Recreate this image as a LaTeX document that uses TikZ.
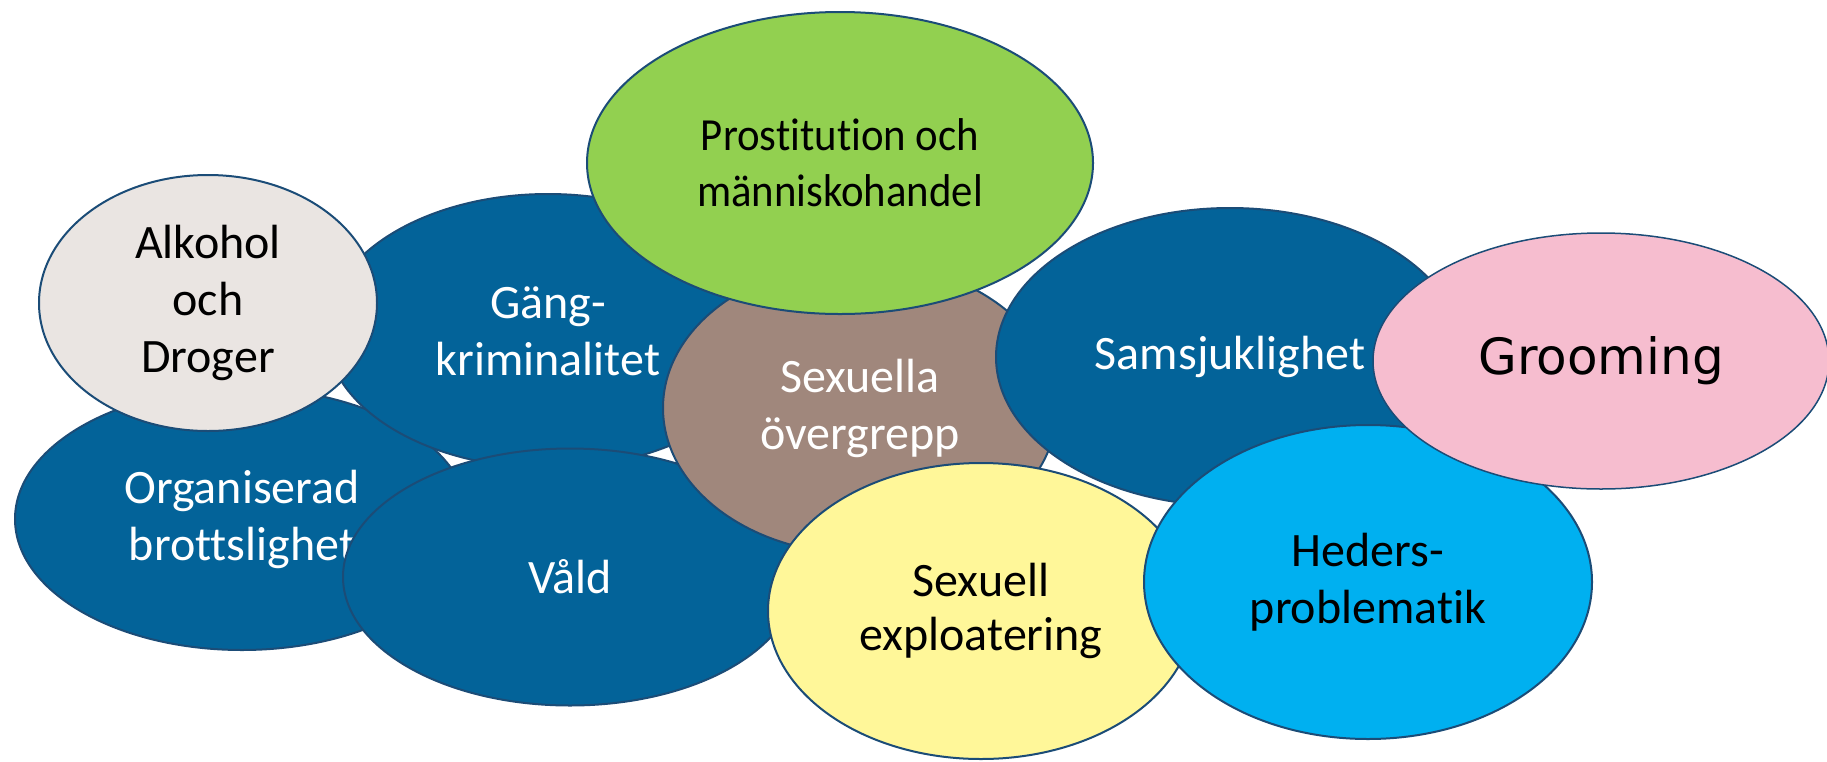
\documentclass[tikz,border=0pt]{standalone}
\usepackage{fontspec}
\setmainfont{Carlito}[Ligatures=NoCommon]
\newfontfamily\groomfont{DejaVu Sans}
\newfontfamily\narrowfont{Carlito}[FakeStretch=0.93, Ligatures=NoCommon]
\usetikzlibrary{shapes.geometric}
\definecolor{dblue}{HTML}{036399}
\definecolor{edgeblue}{HTML}{1B4C77}
\definecolor{alkfill}{HTML}{EAE5E2}
\definecolor{brownfill}{HTML}{A0877C}
\definecolor{greenfill}{HTML}{92D050}
\definecolor{yellowfill}{HTML}{FFF799}
\definecolor{lbluefill}{HTML}{00B0F0}
\definecolor{pinkfill}{HTML}{F6BDCF}
\tikzset{
  blob/.style={ellipse, draw=edgeblue, line width=2pt, inner sep=0pt, align=center,
    font=\fontsize{48}{57}\selectfont},
  darkblob/.style={blob, fill=dblue, text=white},
  lightblob/.style={blob, text=black}
}
\begin{document}
\begin{tikzpicture}[x=1pt,y=-1pt]
\useasboundingbox (0,0) rectangle (1827,761);
\node[darkblob, minimum width=454pt, minimum height=262pt] (org) at (242,519) {Organiserad\\brottslighet};
\node[darkblob, minimum width=444pt, minimum height=274pt] (gang) at (548,331) {Gäng-\\kriminalitet};
\node[lightblob, fill=alkfill, minimum width=338pt, minimum height=256pt] (alk) at (208,303) {Alkohol\\och\\Droger};
\node[darkblob, minimum width=454pt, minimum height=257pt] (vald) at (570,577) {Våld};
\node[darkblob, fill=brownfill, minimum width=394pt, minimum height=292pt] (sexo) at (860,408) {Sexuella\\övergrepp};
\node[darkblob, minimum width=468pt, minimum height=298pt] (sams) at (1230,357) {Samsjuklighet};
\node[lightblob, fill=greenfill, minimum width=506pt, minimum height=302pt, font=\narrowfont\fontsize{46}{56}\selectfont] (prost) at (840,163) {Prostitution och\\människohandel};
\node[lightblob, fill=yellowfill, minimum width=426pt, minimum height=296pt, font=\fontsize{48}{54}\selectfont] (expl) at (981,611) {Sexuell\\exploatering};
\node[lightblob, fill=lbluefill, minimum width=448pt, minimum height=314pt] (heder) at (1368,582) {Heders-\\problematik};
\node[lightblob, fill=pinkfill, minimum width=456pt, minimum height=256pt, line width=1.5pt, font=\groomfont\fontsize{50}{58}\selectfont] (groom) at (1601,361) {Grooming};
\end{tikzpicture}
\end{document}
